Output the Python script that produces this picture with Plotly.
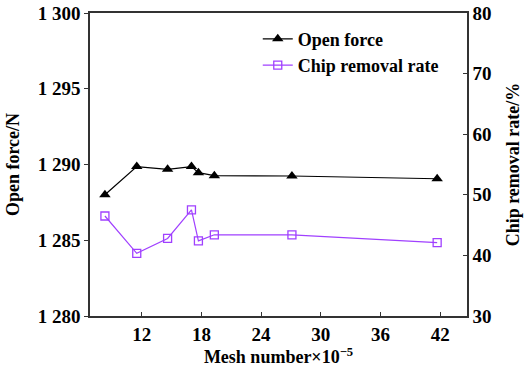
import plotly.graph_objects as go

# Mesh number (×10^-5) and the two measured responses
mesh = [8.3, 11.5, 14.6, 17.0, 17.7, 19.3, 27.1, 41.7]
open_force = [1288.0, 1289.86, 1289.68, 1289.86, 1289.46, 1289.26, 1289.24, 1289.06]
chip_rate = [46.5, 40.35, 42.8, 47.5, 42.4, 43.4, 43.4, 42.1]

x_ticks = [12, 18, 24, 30, 36, 42]
y1_ticks = [1280, 1285, 1290, 1295, 1300]
y1_labels = ["1 280", "1 285", "1 290", "1 295", "1 300"]
y2_ticks = [30, 40, 50, 60, 70, 80]

FONT = "Liberation Serif"
PURPLE = "#a040ff"

fig = go.Figure()
fig.add_trace(go.Scatter(
    x=mesh, y=open_force, name="Open force", mode="lines+markers",
    line=dict(color="black", width=1.2),
    marker=dict(symbol="triangle-up", size=10, color="black"),
))
fig.add_trace(go.Scatter(
    x=mesh, y=chip_rate, name="Chip removal rate", mode="lines+markers",
    yaxis="y2",
    line=dict(color=PURPLE, width=1.2),
    marker=dict(symbol="square-open", size=8, color=PURPLE, line=dict(width=1.3)),
))

tick_font = dict(family=FONT, size=19, color="black", weight="bold")
title_font = dict(family=FONT, size=18, color="black", weight="bold")

axis_common = dict(showgrid=False, zeroline=False, linecolor="#333", linewidth=1.5,
                   tickcolor="#333", tickwidth=1.2, automargin=False,
                   tickfont=tick_font)

fig.update_layout(
    width=524, height=373,
    margin=dict(l=90, r=57, t=13, b=57),
    plot_bgcolor="white", paper_bgcolor="white",
    font=dict(family=FONT, color="black"),
    showlegend=True,
    legend=dict(x=0.445, y=0.975, xanchor="left", yanchor="top",
                bgcolor="rgba(0,0,0,0)", tracegroupgap=0,
                font=dict(family=FONT, size=18, color="black", weight="bold"),
                itemwidth=30),
    xaxis=dict(range=[6.8, 44.7], tickvals=x_ticks, ticks="inside", ticklen=4,
               mirror=True, showline=True,
               title=dict(text="Mesh number×10<sup>−5</sup>",
                          font=title_font, standoff=4),
               **axis_common),
    yaxis=dict(range=[1280, 1300], tickvals=y1_ticks, ticktext=y1_labels,
               ticks="outside", ticklen=4, showline=True,
               title=dict(text="Open force/N", font=title_font, standoff=13),
               **axis_common),
    yaxis2=dict(range=[30, 80], tickvals=y2_ticks, ticks="inside", ticklen=4,
                overlaying="y", side="right", showline=True,
                title=dict(text="Chip removal rate/%", font=title_font, standoff=16),
                **axis_common),
)

fig.write_html("out.html")
